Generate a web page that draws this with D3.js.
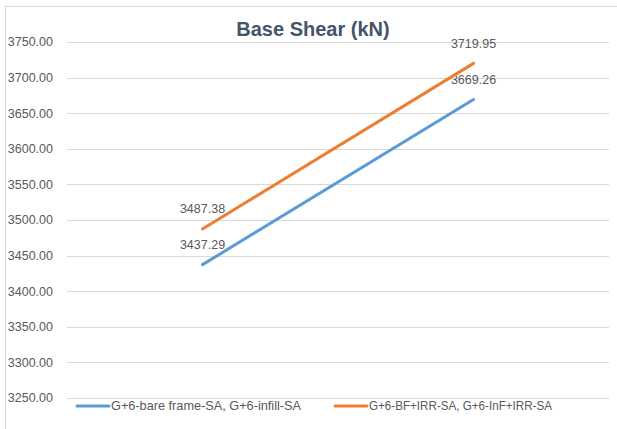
<!DOCTYPE html>
<html>
  <head>
    <title>Base Shear (kN)</title>
    <meta charset="utf-8">
    <style>
    body { margin: 0; background: #fff; }
    text { font-family: "Liberation Sans", Arial, sans-serif; fill: #595959; }
    .grid line { stroke: #d9d9d9; stroke-width: 1px; }
    .title { font-size: 20px; font-weight: bold; fill: #44546a; }
    .tick-label { font-size: 12.5px; }
    .data-label { font-size: 12.5px; }
    .legend text { font-size: 12.6px; }
    </style>
  </head>
  <body>
    <script src="https://d3js.org/d3.v7.min.js"></script>
    <script>

    // chart data
    var categories = ["Case 1", "Case 2"];
    var seriesNames = ["G+6-bare frame-SA, G+6-infill-SA", "G+6-BF+IRR-SA, G+6-InF+IRR-SA"];
    var bareInfill = [3437.29, 3669.26];
    var bfInfIrr = [3487.38, 3719.95];
    var yTicks = [3250, 3300, 3350, 3400, 3450, 3500, 3550, 3600, 3650, 3700, 3750];
    var colors = ["#5b9bd5", "#ed7d31"];

    var width = 617, height = 429;

    var svg = d3.select("body").append("svg")
        .attr("width", width)
        .attr("height", height);

    // chart area border
    svg.append("rect")
        .attr("x", 5.5).attr("y", 6.5)
        .attr("width", 640).attr("height", 450)
        .attr("fill", "#fff")
        .attr("stroke", "#d9d9d9");

    var x = d3.scalePoint()
        .domain(categories)
        .range([67, 609])
        .padding(0.5);

    var y = d3.scaleLinear()
        .domain([3250, 3750])
        .range([398, 42]);

    var grid = svg.append("g").attr("class", "grid");
    grid.selectAll("line")
        .data(yTicks)
        .enter().append("line")
          .attr("x1", 67).attr("x2", 609)
          .attr("y1", function(d) { return Math.round(y(d)) + 0.5; })
          .attr("y2", function(d) { return Math.round(y(d)) + 0.5; });

    svg.append("g").selectAll("text")
        .data(yTicks)
        .enter().append("text")
          .attr("class", "tick-label")
          .attr("x", 53)
          .attr("y", function(d) { return y(d); })
          .attr("dy", "0.35em")
          .attr("text-anchor", "end")
          .text(function(d) { return d3.format(".2f")(d); });

    svg.append("text")
        .attr("class", "title")
        .attr("x", 313)
        .attr("y", 36)
        .attr("text-anchor", "middle")
        .text("Base Shear (kN)");

    var series = [
      { name: seriesNames[0], values: bareInfill, color: colors[0] },
      { name: seriesNames[1], values: bfInfIrr, color: colors[1] }
    ];

    var line = d3.line()
        .x(function(d, i) { return x(categories[i]); })
        .y(function(d) { return y(d); });

    var lines = svg.append("g").selectAll("g")
        .data(series)
        .enter().append("g");

    lines.append("path")
        .attr("d", function(d) { return line(d.values); })
        .attr("fill", "none")
        .attr("stroke", function(d) { return d.color; })
        .attr("stroke-width", 3)
        .attr("stroke-linecap", "round");

    lines.selectAll("text")
        .data(function(d) { return d.values; })
        .enter().append("text")
          .attr("class", "data-label")
          .attr("x", function(d, i) { return x(categories[i]); })
          .attr("y", function(d) { return y(d) - 20; })
          .attr("dy", "0.35em")
          .attr("text-anchor", "middle")
          .text(function(d) { return d3.format(".2f")(d); });

    // legend (text widths squeezed to match the narrower original font)
    var legendX = [77, 335];
    var legendTextWidth = [190, 183];
    var legend = svg.append("g").attr("class", "legend")
      .selectAll("g")
      .data(series)
      .enter().append("g")
        .attr("transform", function(d, i) { return "translate(" + legendX[i] + ",406)"; });

    legend.append("line")
        .attr("x1", 0).attr("x2", 32)
        .attr("stroke", function(d) { return d.color; })
        .attr("stroke-width", 3)
        .attr("stroke-linecap", "round");

    legend.append("text")
        .attr("x", 34)
        .attr("dy", "0.35em")
        .attr("textLength", function(d, i) { return legendTextWidth[i]; })
        .attr("lengthAdjust", "spacingAndGlyphs")
        .text(function(d) { return d.name; });

    </script>
  </body>
</html>
